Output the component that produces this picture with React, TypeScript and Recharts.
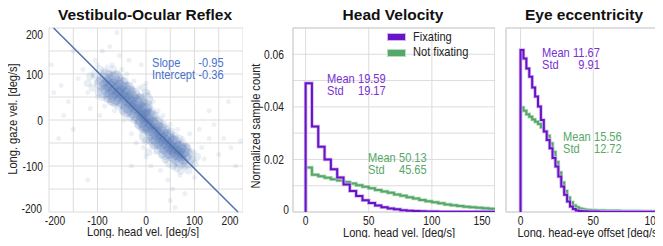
import React from 'react';
import {
  ScatterChart, Scatter, LineChart, Line, XAxis, YAxis, CartesianGrid, ReferenceLine, ReferenceArea,
} from 'recharts';

// --- scatter (Vestibulo-Ocular Reflex), [head vel, gaze vel] in deg/s
const vorCore: [number, number][] = [
  [-92, 80], [-88, 88], [-85, 72], [-82, 95], [-80, 78], [-78, 65], [-75, 85], [-72, 70], [-70, 58], [-68, 90],
  [-66, 75], [-64, 62], [-62, 48], [-60, 80], [-58, 66], [-56, 55], [-54, 72], [-52, 42], [-50, 60], [-48, 50],
  [-46, 68], [-44, 38], [-42, 55], [-40, 45], [-38, 30], [-36, 60], [-34, 40], [-32, 25], [-30, 48], [-28, 35],
  [-26, 18], [-24, 42], [-22, 28], [-20, 12], [-18, 35], [-16, 20], [-14, 5], [-12, 25], [-10, 14], [-8, -2],
  [-6, 18], [-4, 8], [-2, -10], [0, 30], [0, 10], [0, -15], [0, 45], [0, -35], [2, 0], [4, -12],
  [6, 10], [8, -20], [10, -5], [12, -28], [14, -10], [16, -22], [18, -38], [20, -15], [22, -30], [24, -45],
  [26, -20], [28, -35], [30, -50], [32, -28], [34, -42], [36, -58], [38, -35], [40, -48], [42, -62], [44, -40],
  [46, -55], [48, -70], [50, -45], [52, -60], [54, -75], [56, -50], [58, -65], [60, -80], [62, -58], [64, -72],
  [66, -85], [68, -62], [70, -75], [72, -90], [75, -68], [78, -82], [82, -75], [85, -90],
  [-86, 62], [-74, 52], [-62, 92], [-50, 78], [-38, 68], [-26, 55], [-14, 42], [-2, 22], [10, 8], [22, -8],
  [34, -22], [46, -35], [58, -48], [70, -60], [80, -65], [-10, -8], [20, -50], [40, -72], [-40, 20], [-66, 45],
];
const vorMid: [number, number][] = [
  [-110, 70], [-105, 100], [-100, 85], [-98, 60], [-95, 110], [-90, 50], [-86, 105], [-80, 45], [-76, 100], [-72, 40],
  [-68, 110], [-64, 35], [-60, 100], [-56, 30], [-52, 90], [-48, 20], [-44, 85], [-40, 15], [-36, 75], [-32, 5],
  [-28, 65], [-24, 0], [-20, 55], [-16, -10], [-12, 50], [-8, -20], [-4, 40], [0, -45], [0, 60], [4, 30],
  [8, -45], [12, 20], [16, -55], [20, 10], [24, -65], [28, 0], [32, -75], [36, -10], [40, -85], [44, -20],
  [48, -95], [52, -25], [56, -100], [60, -35], [64, -105], [68, -40], [72, -110], [76, -50], [80, -100], [84, -60],
  [88, -110], [92, -70], [96, -85], [100, -95], [-115, 95], [-120, 80], [105, -80], [-5, 70], [5, -70],
];
const vorSparse: [number, number][] = [
  [-190, 60], [-175, 75], [-160, 40], [-150, -20], [-140, 90], [-130, 110], [-120, 60], [-115, 25], [-110, 95], [-105, 130],
  [-100, 50], [-100, 120], [-95, 10], [-90, 150], [-85, 30], [-80, 115], [-75, 160], [-70, 120], [-65, 20], [-60, 190],
  [-55, 140], [-50, 110], [-45, 0], [-40, 100], [-35, 130], [-30, -30], [-25, 85], [-20, -50], [-15, 70], [-10, 120],
  [-5, -60], [0, 80], [0, -80], [5, 60], [10, -100], [15, 40], [20, -70], [25, 20], [30, -110], [35, 10],
  [40, -90], [45, -130], [50, -10], [55, -150], [60, -100], [65, -20], [70, -120], [75, -40], [80, -160], [85, -55],
  [90, -30], [95, -100], [100, -70], [110, -20], [115, -60], [120, -85], [130, -40], [140, -10], [150, -75], [160, -40],
  [175, -60], [185, -100], [195, -45], [-195, 120], [-170, 10], [130, 20], [100, -125], [60, -190], [-120, -130], [170, 40],
  [-180, -40], [-150, 150], [20, 120], [-30, -100], [50, -175],
];
const vorSlope = -0.95;
const vorIntercept = -0.36;

// --- histograms (normalized sample count)
const headBinWidth = 5;
const headFixating = [
  0.0490, 0.0325, 0.0248, 0.0200, 0.0163, 0.0131, 0.0105, 0.0080, 0.0061, 0.0045,
  0.0034, 0.0025, 0.0018, 0.0013, 0.0010, 0.0007, 0.0005, 0.0004, 0.0003, 0.0002,
  0.0002, 0.0001, 0.0001, 0.0001, 0.0001, 0.0001, 0.0001, 0.0001, 0.0001, 0.0001,
];
const headNotFixating = [
  0.0169, 0.0142, 0.0136, 0.0130, 0.0125, 0.0120, 0.0114, 0.0108, 0.0102, 0.0096,
  0.0090, 0.0084, 0.0078, 0.0073, 0.0067, 0.0062, 0.0056, 0.0051, 0.0046, 0.0041,
  0.0037, 0.0033, 0.0029, 0.0026, 0.0023, 0.0020, 0.0018, 0.0016, 0.0014, 0.0012,
];
const headStats = { fix: ['19.59', '19.17'], notFix: ['50.13', '45.65'] };

const eyeBinWidth = 2;
const eyeFixating = [
  0.0616, 0.0584, 0.0546, 0.0515, 0.0474, 0.0439, 0.0401, 0.0350, 0.0306, 0.0274,
  0.0243, 0.0205, 0.0173, 0.0135, 0.0097, 0.0066, 0.0040, 0.0021, 0.0011, 0.0006,
  0.0004, 0.0003, 0.0003, 0.0002, 0.0002, 0.0002, 0.0002, 0.0001, 0.0001, 0.0001,
  0.0001, 0.0001, 0.0001, 0.0001, 0.0001, 0.0001, 0.0001, 0.0001, 0.0001, 0.0001,
  0.0001, 0.0001, 0.0001, 0.0001, 0.0001, 0.0001, 0.0001, 0.0001, 0.0001, 0.0001,
];
const eyeNotFixating = [
  0.0398, 0.0385, 0.0372, 0.0362, 0.0352, 0.0343, 0.0335, 0.0322, 0.0306, 0.0290,
  0.0262, 0.0228, 0.0190, 0.0150, 0.0112, 0.0080, 0.0055, 0.0037, 0.0025, 0.0018,
  0.0013, 0.0010, 0.0009, 0.0008, 0.0007, 0.0007, 0.0006, 0.0006, 0.0006, 0.0005,
  0.0005, 0.0005, 0.0005, 0.0005, 0.0004, 0.0004, 0.0004, 0.0004, 0.0004, 0.0004,
  0.0004, 0.0003, 0.0003, 0.0003, 0.0003, 0.0003, 0.0003, 0.0003, 0.0003, 0.0003,
];
const eyeStats = { fix: ['11.67', '9.91'], notFix: ['15.56', '12.72'] };

const vorTicks = [-200, -150, -100, -50, 0, 50, 100, 150, 200];
const vorLabels = [-200, -100, 0, 100, 200];
const countTicks = [0, 0.01, 0.02, 0.03, 0.04, 0.05, 0.06, 0.07];
const countLabels = [0, 0.02, 0.04, 0.06];

// no narrow font installed: squeeze Liberation Sans horizontally instead
const SANS = '"Liberation Sans", Arial, sans-serif';
const SQ = 0.82;
const BLUE = '#4c72b0';
const PURPLE = '#6a12c6';
const PURPLE_HALO = '#cdb6f0';
const PURPLE_TXT = '#7a30d4';
const GREEN = '#55a868';
const GREEN_HALO = '#b9dcc0';
const GRID = '#dcdcdc';

const toSteps = (vals: number[], w: number) => [
  { x: 0, y: 0 },
  ...vals.map((v, i) => ({ x: i * w, y: v })),
  { x: vals.length * w, y: vals[vals.length - 1] },
];
const toPts = (arr: [number, number][]) => arr.map(([x, y]) => ({ x, y }));

const xTick = (labels: number[], shift: Record<string, number>) => (p: any) => {
  const v = p.payload.value;
  if (!labels.includes(v)) return <g />;
  return (
    <text transform={`translate(${p.x + (shift[String(v)] ?? 0)},${p.y + 8}) scale(${SQ},1)`} dy="0.36em"
      textAnchor="middle" fontSize={12.5} fontFamily={SANS} fill="#222">
      {String(v)}
    </text>
  );
};
const yTick = (labels: number[], gap: number, shift: Record<string, [number, number]>) => (p: any) => {
  const v = p.payload.value;
  if (!labels.includes(v)) return <g />;
  const [dx, dy] = shift[String(v)] ?? [0, 0];
  return (
    <text transform={`translate(${p.x - gap + dx},${p.y + dy}) scale(${SQ},1)`} dy="0.36em"
      textAnchor="end" fontSize={12.5} fontFamily={SANS} fill="#222">
      {String(v)}
    </text>
  );
};

const abs = (left: number, top: number): React.CSSProperties => ({ position: 'absolute', left, top });

function Title({ cx, text }: { cx: number; text: string }) {
  return (
    <div style={{ ...abs(cx, 15), transform: 'translate(-50%, -50%)', fontFamily: SANS, fontWeight: 'bold', fontSize: 15.5, lineHeight: '18px', whiteSpace: 'nowrap', color: '#111' }}>
      {text}
    </div>
  );
}
function AxisLabel({ cx, cy, text, rotate }: { cx: number; cy: number; text: string; rotate?: boolean }) {
  return (
    <div style={{ ...abs(cx, cy), transform: `translate(-50%, -50%)${rotate ? ' rotate(-90deg)' : ''} scaleX(${SQ})`, fontFamily: SANS, fontSize: 13.5, lineHeight: '14px', whiteSpace: 'nowrap', color: '#222' }}>
      {text}
    </div>
  );
}
function Stats({ left, cy, color, rows, alignRight = true }: { left: number; cy: number; color: string; rows: string[][]; alignRight?: boolean }) {
  return (
    <div style={{ ...abs(left, cy - 6), transform: `scaleX(${SQ})`, transformOrigin: 'left top', display: 'grid', gridTemplateColumns: 'auto auto', columnGap: 4, fontFamily: SANS, fontSize: 13.5, lineHeight: '11.5px', color, whiteSpace: 'nowrap' }}>
      {rows.map(([a, b]) => (
        <React.Fragment key={a}>
          <span>{a}</span>
          <span style={{ textAlign: alignRight ? 'right' : 'left' }}>{b}</span>
        </React.Fragment>
      ))}
    </div>
  );
}
function Swatch({ top, color, halo }: { top: number; color: string; halo: string }) {
  return <div style={{ ...abs(387, top), width: 17, height: 6, background: color, border: `1px solid ${halo}` }} />;
}
function LegendText({ top, text }: { top: number; text: string }) {
  return (
    <div style={{ ...abs(413, top), transform: `scaleX(${SQ})`, transformOrigin: 'left top', fontFamily: SANS, fontSize: 13.5, lineHeight: '14px', color: '#222', whiteSpace: 'nowrap' }}>
      {text}
    </div>
  );
}

export default function App() {
  const x1 = vorSlope * 200 + vorIntercept;
  const x2 = vorSlope * -200 + vorIntercept;
  const dot = (r: number, o: number) => (p: any) => <circle cx={p.cx} cy={p.cy} r={r} fill={BLUE} fillOpacity={o} />;
  const stepLines = (vals: number[], w: number, color: string, halo: string) => [
    <Line key={color + 'h'} data={toSteps(vals, w)} dataKey="y" type="stepAfter" stroke={halo} strokeWidth={3.5} dot={false} isAnimationActive={false} />,
    <Line key={color} data={toSteps(vals, w)} dataKey="y" type="stepAfter" stroke={color} strokeWidth={2} dot={false} isAnimationActive={false} />,
  ];

  return (
    <div style={{ position: 'relative', width: 663, height: 246, margin: -8, overflow: 'hidden', background: '#fff' }}>
      {/* panel 1 */}
      <div style={abs(0, 0)}>
        <ScatterChart width={243} height={246} margin={{ top: 28, right: 0, bottom: 0, left: 0 }}>
          <CartesianGrid stroke={GRID} />
          <XAxis type="number" dataKey="x" domain={[-200, 200]} ticks={vorTicks} allowDataOverflow height={34}
            axisLine={false} tickLine={false} tickSize={0} tickMargin={0} interval={0}
            tick={xTick(vorLabels, { '-200': 6, '200': -13 })} />
          <YAxis type="number" dataKey="y" domain={[-200, 200]} ticks={vorTicks} allowDataOverflow width={49}
            axisLine={false} tickLine={false} tickSize={0} tickMargin={0} interval={0}
            tick={yTick(vorLabels, 6, { '200': [0, 6], '-200': [-1, -4] })} />
          <Scatter data={toPts(vorSparse)} shape={dot(2.5, 0.1)} isAnimationActive={false} />
          <Scatter data={toPts(vorMid)} shape={dot(4, 0.12)} isAnimationActive={false} />
          <Scatter data={toPts(vorCore)} shape={dot(7, 0.17)} isAnimationActive={false} />
          <ReferenceLine segment={[{ x: x1, y: 200 }, { x: x2, y: -200 }]} stroke={BLUE} strokeWidth={1.5} ifOverflow="visible" />
        </ScatterChart>
      </div>
      <Title cx={145} text="Vestibulo-Ocular Reflex" />
      <AxisLabel cx={143} cy={232} text="Long. head vel. [deg/s]" />
      <AxisLabel cx={13} cy={119} text="Long. gaze vel. [deg/s]" rotate />
      <Stats left={152} cy={63} color="#4a72cc" rows={[['Slope', String(vorSlope)], ['Intercept', String(vorIntercept)]]} alignRight={false} />

      {/* panel 2 */}
      <div style={abs(250, 0)}>
        <LineChart width={245} height={246} margin={{ top: 28, right: 0, bottom: 0, left: 0 }}>
          <CartesianGrid stroke={GRID} />
          <XAxis type="number" dataKey="x" domain={[-10, 150]} ticks={[0, 50, 100, 150]} allowDataOverflow height={34}
            axisLine={false} tickLine={false} tickSize={0} tickMargin={0} interval={0}
            tick={xTick([0, 50, 100, 150], { '150': -13 })} />
          <YAxis type="number" domain={[0, 0.07]} ticks={countTicks} allowDataOverflow width={43}
            axisLine={false} tickLine={false} tickSize={0} tickMargin={0} interval={0}
            tick={yTick(countLabels, 9, { '0': [5, -3] })} />
          <ReferenceArea x1={-10} x2={150} y1={0} y2={0.07} fill="none" stroke="#cfcfcf" />
          {stepLines(headNotFixating, headBinWidth, GREEN, GREEN_HALO)}
          {stepLines(headFixating, headBinWidth, PURPLE, PURPLE_HALO)}
        </LineChart>
      </div>
      <Title cx={393} text="Head Velocity" />
      <AxisLabel cx={399} cy={233} text="Long. head vel. [deg/s]" />
      <AxisLabel cx={256} cy={126} text="Normalized sample count" rotate />
      <Swatch top={33} color={PURPLE} halo={PURPLE_HALO} />
      <Swatch top={49} color={GREEN} halo={GREEN_HALO} />
      <LegendText top={30} text="Fixating" />
      <LegendText top={45} text="Not fixating" />
      <Stats left={327} cy={79} color={PURPLE_TXT} rows={[['Mean', headStats.fix[0]], ['Std', headStats.fix[1]]]} />
      <Stats left={368} cy={158} color={GREEN} rows={[['Mean', headStats.notFix[0]], ['Std', headStats.notFix[1]]]} />

      {/* panel 3 */}
      <div style={abs(500, 0)}>
        <LineChart width={166} height={246} margin={{ top: 28, right: 0, bottom: 0, left: 0 }}>
          <CartesianGrid stroke={GRID} />
          <XAxis type="number" dataKey="x" domain={[-10, 100]} ticks={[0, 50, 100]} allowDataOverflow height={34}
            axisLine={false} tickLine={false} tickSize={0} tickMargin={0} interval={0}
            tick={xTick([0, 50, 100], { '100': -13 })} />
          <YAxis type="number" domain={[0, 0.07]} ticks={countTicks} allowDataOverflow width={6}
            axisLine={false} tickLine={false} tick={false} />
          <ReferenceArea x1={-10} x2={100} y1={0} y2={0.07} fill="none" stroke="#cfcfcf" />
          {stepLines(eyeNotFixating, eyeBinWidth, GREEN, GREEN_HALO)}
          {stepLines(eyeFixating, eyeBinWidth, PURPLE, PURPLE_HALO)}
        </LineChart>
      </div>
      <Title cx={584} text="Eye eccentricity" />
      <AxisLabel cx={589} cy={233} text="Long. head-eye offset [deg/s]" />
      <Stats left={542} cy={53} color={PURPLE_TXT} rows={[['Mean', eyeStats.fix[0]], ['Std', eyeStats.fix[1]]]} />
      <Stats left={563} cy={137} color={GREEN} rows={[['Mean', eyeStats.notFix[0]], ['Std', eyeStats.notFix[1]]]} />
    </div>
  );
}
